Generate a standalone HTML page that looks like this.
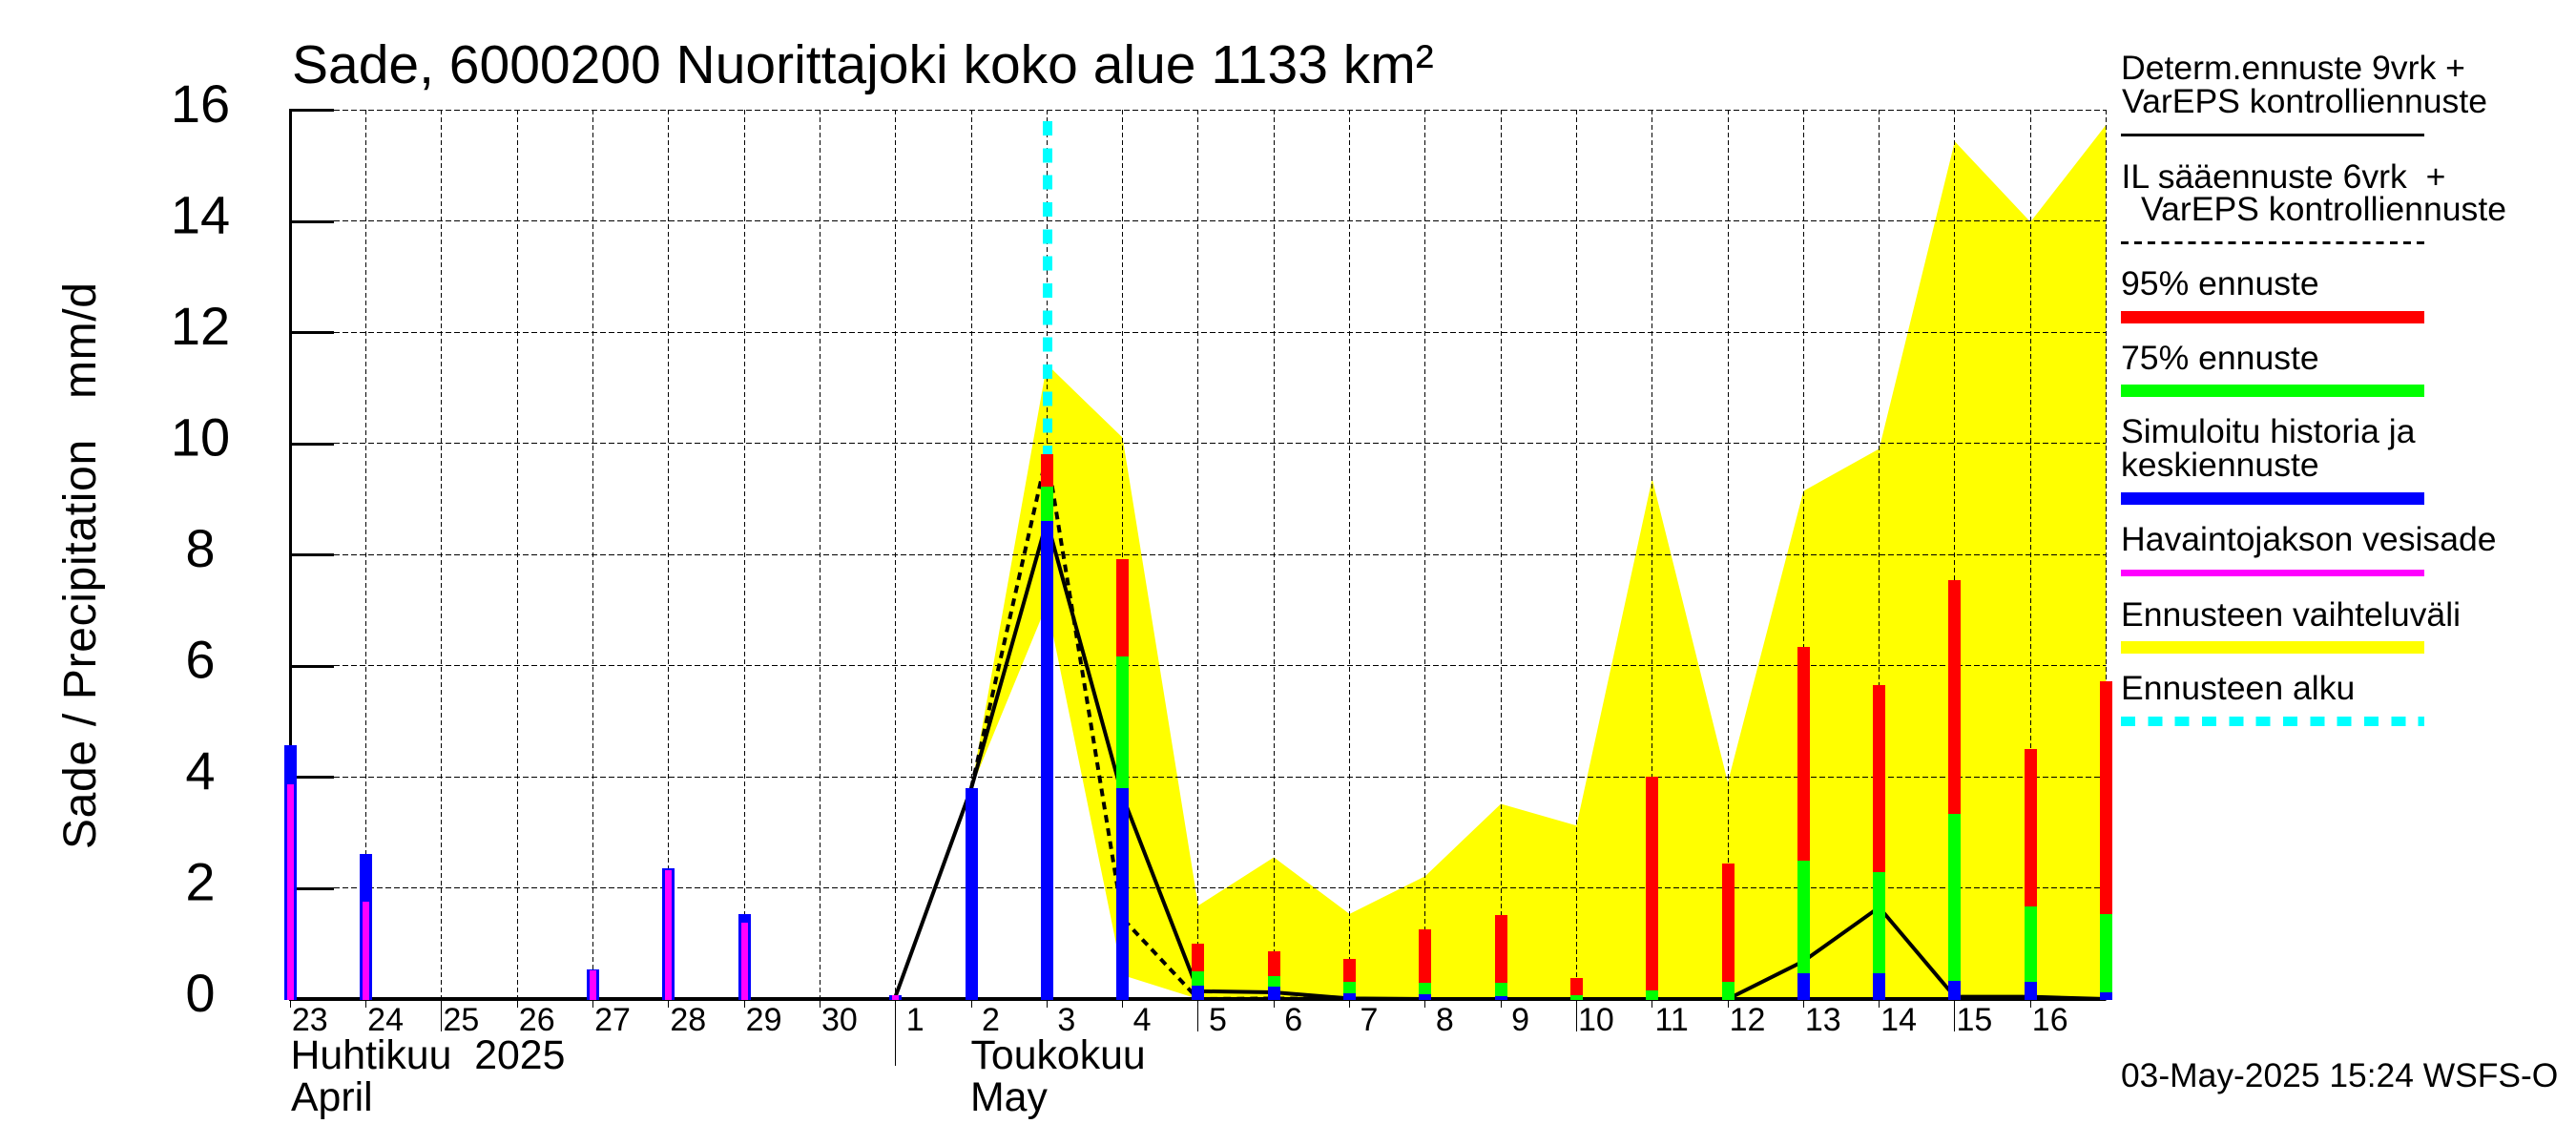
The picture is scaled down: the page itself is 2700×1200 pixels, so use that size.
<!DOCTYPE html>
<html lang="fi">
<head>
<meta charset="utf-8">
<title>Sade, 6000200 Nuorittajoki koko alue 1133 km²</title>
<style>
html,body{margin:0;padding:0;background:#fff;width:2700px;height:1200px;overflow:hidden}
svg{display:block}
text{font-family:"Liberation Sans",sans-serif;fill:#000;white-space:pre}
.leg{font-size:35.6px}
</style>
</head>
<body>
<svg id="chart" xmlns="http://www.w3.org/2000/svg" width="2700" height="1200" viewBox="0 0 2700 1200">
  <rect x="0" y="0" width="2700" height="1200" fill="#fff"/>
  <g id="envelope-layer"></g>
  <g id="grid-layer"></g>
  <g id="axis-layer"></g>
  <g id="start-layer"></g>
  <g id="line-layer"></g>
  <g id="bar-layer"></g>
  <g id="label-layer"></g>

  <text x="306" y="87" font-size="57">Sade, 6000200 Nuorittajoki koko alue 1133 km²</text>
  <text transform="translate(100,890) rotate(-90)" font-size="48" textLength="594">Sade / Precipitation   mm/d</text>
  <text x="304.5" y="1120" font-size="42.8">Huhtikuu  2025</text>
  <text x="305" y="1164" font-size="42.8">April</text>
  <text x="1017.5" y="1120" font-size="42.8">Toukokuu</text>
  <text x="1017" y="1164" font-size="42.8">May</text>

  <g>
    <text class="leg" x="2223" y="83">Determ.ennuste 9vrk +</text>
    <text class="leg" x="2224" y="118">VarEPS kontrolliennuste</text>
    <rect x="2223" y="140" width="318" height="3" fill="#000"/>
    <text class="leg" x="2223.5" y="197">IL sääennuste 6vrk  +</text>
    <text class="leg" x="2244" y="231">VarEPS kontrolliennuste</text>
    <line x1="2223" x2="2541" y1="254.5" y2="254.5" stroke="#000" stroke-width="3" stroke-dasharray="8 6.09" shape-rendering="crispEdges"/>
    <text class="leg" x="2223" y="309">95% ennuste</text>
    <rect x="2223" y="326" width="318" height="13" fill="#f00"/>
    <text class="leg" x="2223" y="387">75% ennuste</text>
    <rect x="2223" y="403" width="318" height="13" fill="#0f0"/>
    <text class="leg" x="2223" y="464">Simuloitu historia ja</text>
    <text class="leg" x="2223" y="499">keskiennuste</text>
    <rect x="2223" y="516" width="318" height="13" fill="#00f"/>
    <text class="leg" x="2223" y="577">Havaintojakson vesisade</text>
    <rect x="2223" y="597" width="318" height="7" fill="#f0f"/>
    <text class="leg" x="2223" y="656">Ennusteen vaihteluväli</text>
    <rect x="2223" y="672" width="318" height="13" fill="#ff0"/>
    <text class="leg" x="2223" y="733">Ennusteen alku</text>
    <line x1="2223" x2="2541" y1="756" y2="756" stroke="#0ff" stroke-width="10" stroke-dasharray="15 13.33" shape-rendering="crispEdges"/>
  </g>
  <text class="leg" x="2223" y="1139" style="font-size:35.4px">03-May-2025 15:24 WSFS-O</text>
</svg>
<script>
// Chart data (mm/d). One entry per day slot, 23 Apr to 17 May; null = not drawn.
const dayLabels = [23,24,25,26,27,28,29,30,1,2,3,4,5,6,7,8,9,10,11,12,13,14,15,16,null];
const yTickLabels = [0,2,4,6,8,10,12,14,16];
const longTickDays = [25,5,10,15];
const monthStartDay = 1;
const forecastStartSlot = 10;
const forecastStartTop = 15.8;
const simulated = [4.57,2.61,0,0,0.53,2.35,1.52,0,0.07,3.79,8.6,3.79,0.24,0.22,0.1,0.09,0.05,0,0,0,0.46,0.46,0.33,0.31,0.12];
const observed = [3.86,1.75,0,0,0.52,2.32,1.38,0,0.07,null,null,null,null,null,null,null,null,null,null,null,null,null,null,null,null];
const forecast75 = [null,null,null,null,null,null,null,null,null,null,9.22,6.17,0.5,0.41,0.31,0.29,0.29,0.07,0.16,0.31,2.49,2.28,3.33,1.66,1.53];
const forecast95 = [null,null,null,null,null,null,null,null,null,null,9.8,7.91,0.99,0.86,0.72,1.25,1.51,0.38,4.0,2.44,6.33,5.65,7.53,4.5,5.72];
const rangeUpper = [null,null,null,null,null,null,null,null,null,3.79,11.42,10.1,1.68,2.55,1.53,2.21,3.51,3.12,9.36,3.9,9.14,9.9,15.43,13.98,15.73];
const rangeLower = [null,null,null,null,null,null,null,null,null,3.79,7.1,0.43,0,0,0,0,0,0,0,0,0,0,0,0,0];
const determLine = [null,null,null,null,null,null,null,null,0.05,3.79,8.6,3.65,0.14,0.12,0.01,0,0,0,0,0,0.68,1.65,0.04,0.04,0];
const ilLine = [null,null,null,null,null,null,null,null,null,3.79,9.8,1.45,0,0.01,0,null,null,null,null,null,null,null,null,null,null];

const NS = 'http://www.w3.org/2000/svg';
const PLOT_LEFT = 304.3, SLOT_W = 79.3, BASE_Y = 1047, UNIT_H = 58.25, TICK_RIGHT = 350, BAR_W = 13;
const xScale = function (slot) { return PLOT_LEFT + SLOT_W * slot; };
const yScale = function (value) { return BASE_Y - UNIT_H * value; };
const lastSlot = dayLabels.length - 1;
const make = function (tag, parent, props) {
  const el = document.createElementNS(NS, tag);
  for (const k in props) el.setAttribute(k, props[k]);
  document.getElementById(parent).appendChild(el);
  return el;
};
const crispX = function (slot) { return Math.floor(xScale(slot)) + 0.5; };
const crispY = function (v) { return Math.floor(yScale(v)) + 0.5; };

// forecast range polygon
const upperPts = [], lowerPts = [];
rangeUpper.forEach(function (v, i) { if (v !== null) upperPts.push(xScale(i) + ',' + yScale(v)); });
rangeLower.forEach(function (v, i) { if (v !== null) lowerPts.unshift(xScale(i) + ',' + yScale(v)); });
const rangeEl = make('polygon', 'envelope-layer', { points: upperPts.concat(lowerPts).join(' '), fill: '#ff0' });



// grid
yTickLabels.forEach(function (v) {
  if (v === 0) return;
  const g = make('line', 'grid-layer', { x1: TICK_RIGHT, x2: xScale(lastSlot), y1: crispY(v), y2: crispY(v), stroke: '#000', 'stroke-width': 1, 'stroke-dasharray': '6 3', 'shape-rendering': 'crispEdges' });
  
  
});
dayLabels.forEach(function (d, i) {
  if (i === 0) return;
  const g = make('line', 'grid-layer', { x1: crispX(i), x2: crispX(i), y1: yScale(16), y2: BASE_Y, stroke: '#000', 'stroke-width': 1, 'stroke-dasharray': '5 3', 'shape-rendering': 'crispEdges' });
  
  
});

// axes
const yAxis = make('rect', 'axis-layer', { x: 303, y: yScale(16) - 1, width: 3, height: BASE_Y - yScale(16) + 1, fill: '#000' });


const xAxis = make('rect', 'axis-layer', { x: 303, y: BASE_Y - 2, width: xScale(lastSlot) - 303, height: 4, fill: '#000' });


yTickLabels.forEach(function (v) {
  const t = make('rect', 'axis-layer', { x: 304, y: Math.round(yScale(v)) - 1, width: TICK_RIGHT - 304, height: 3, fill: '#000' });
  
  
  const lab = make('text', 'label-layer', { x: 210, y: yScale(v) + 13, 'font-size': 56, 'text-anchor': 'middle' });
  lab.textContent = String(v);
  
  
});
dayLabels.forEach(function (d, i) {
  if (d === null) return;
  const bottom = d === monthStartDay ? 1117 : (longTickDays.indexOf(d) >= 0 ? 1081 : 1056);
  const t = make('line', 'axis-layer', { x1: crispX(i), x2: crispX(i), y1: BASE_Y, y2: bottom, stroke: '#000', 'stroke-width': 1, 'shape-rendering': 'crispEdges' });
  
  
  const lab = make('text', 'label-layer', { x: xScale(i) + 20.5, y: 1080, 'font-size': 34, 'text-anchor': 'middle' });
  lab.textContent = String(d);
  
  
});

// forecast start marker
const startLine = make('line', 'start-layer', { x1: xScale(forecastStartSlot) + 0.7, x2: xScale(forecastStartSlot) + 0.7, y1: yScale(forecastStartTop) + 0.35, y2: yScale(forecast95[forecastStartSlot]), stroke: '#0ff', 'stroke-width': 10, 'stroke-dasharray': '15 13.33', 'shape-rendering': 'crispEdges' });



// lines
const toPoints = function (series) {
  const pts = [];
  series.forEach(function (v, i) { if (v !== null) pts.push(xScale(i) + ',' + yScale(v)); });
  return pts.join(' ');
};
const determEl = make('polyline', 'line-layer', { points: toPoints(determLine), fill: 'none', stroke: '#000', 'stroke-width': 4 });


const ilEl = make('polyline', 'line-layer', { points: toPoints(ilLine), fill: 'none', stroke: '#000', 'stroke-width': 4, 'stroke-dasharray': '8 6' });



// bars
const addBar = function (slot, value, width, color, name) {
  if (value === null || value <= 0) return;
  const top = Math.round(yScale(value));
  const bar = make('rect', 'bar-layer', { x: Math.floor(xScale(slot) - width / 2 + 0.5), y: top, width: width, height: BASE_Y + 1 - top, fill: color, 'shape-rendering': 'crispEdges' });
  
  
};
dayLabels.forEach(function (d, i) {
  addBar(i, forecast95[i], BAR_W, '#f00', 'bar-95-forecast');
  addBar(i, forecast75[i], BAR_W, '#0f0', 'bar-75-forecast');
  addBar(i, simulated[i], BAR_W, '#00f', 'bar-simulated');
  addBar(i, observed[i], 7, '#f0f', 'bar-observed');
});
</script>
</body>
</html>
